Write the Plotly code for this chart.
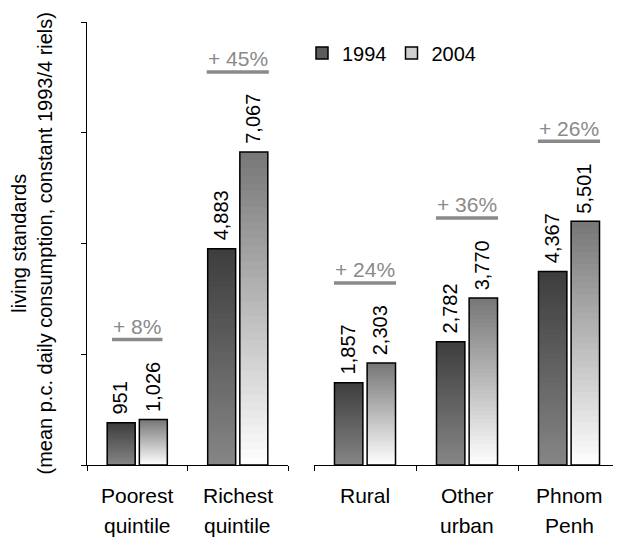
import plotly.graph_objects as go

# ---------------- data ----------------
quintiles = ["Poorest<br>quintile", "Richest<br>quintile"]
areas = ["Rural", "Other<br>urban", "Phnom<br>Penh"]
years = ["1994", "2004"]
q_1994 = [951, 4883]
q_2004 = [1026, 7067]
a_1994 = [1857, 2782, 4367]
a_2004 = [2303, 3770, 5501]
y_ticks = [0, 2500, 5000, 7500, 10000]
y_title = "living standards<br>(mean p.c. daily consumption, constant 1993/4 riels)"

# ---------------- style ----------------
FONT = "Liberation Sans, Arial, sans-serif"
OFF = 8  # page body margin
W, H = 621 - OFF, 550 - OFF
ML, MR, MT, MB = 87 - OFF, 1, 22 - OFF, 85
PW = W - ML - MR
PH = H - MT - MB
BARGAP, GROUPGAP = 0.36, 0.13
N = 40
GRAD = {"1994": (0x3d, 0x86), "2004": (0x76, 0xff)}
LEG_COL = {"1994": "#5c5c5c", "2004": "#cfcfcf"}
PCT_COL = "#8a8a8a"

left_dom = [0, (288 - OFF - ML) / PW]
right_dom = [(314 - OFF - ML) / PW, 1]


def grey(a, b, t):
    v = round(a + (b - a) * t)
    return f"rgb({v},{v},{v})"


fig = go.Figure()
panels = [
    (quintiles, [q_1994, q_2004], "x", "y", left_dom),
    (areas, [a_1994, a_2004], "x2", "y2", right_dom),
]

annotations = []
shapes = []

for cats, series, xa, ya, dom in panels:
    cat_px = (dom[1] - dom[0]) * PW / len(cats)
    half_slot = (1 - BARGAP) / 2 / 2 * cat_px
    for yr, vals in zip(years, series):
        top, bot = GRAD[yr]
        for k in range(N):
            frac = (N - k) / N
            t = (k + 0.5) / N
            fig.add_bar(
                x=cats, y=[v * frac for v in vals], xaxis=xa, yaxis=ya,
                offsetgroup=yr, marker=dict(color=grey(top, bot, t), line_width=0),
                showlegend=False, hoverinfo="skip",
            )
        fig.add_bar(
            x=cats, y=vals, xaxis=xa, yaxis=ya, offsetgroup=yr,
            marker=dict(color="rgba(0,0,0,0)", line=dict(color="black", width=1.5)),
            showlegend=False, hoverinfo="skip",
        )
    # value labels
    for j, vals in enumerate(series):
        sh = -half_slot if j == 0 else half_slot
        for c, v in zip(cats, vals):
            annotations.append(dict(
                x=c, y=v, xref=xa, yref=ya, text=f"{v:,}", showarrow=False,
                textangle=-90, xanchor="center", yanchor="bottom",
                xshift=sh - 1, yshift=6, font=dict(family=FONT, size=20, color="black"),
            ))
    # percentage change labels
    for c, v0, v1 in zip(cats, series[0], series[1]):
        pct = round((v1 / v0 - 1) * 100)
        txt = f"+ {pct}%"
        ym = max(v0, v1)
        annotations.append(dict(
            x=c, y=ym, xref=xa, yref=ya, text=txt, showarrow=False,
            xanchor="center", yanchor="middle", yshift=93,
            font=dict(family=FONT, size=21, color=PCT_COL),
        ))
        tw = 21 * (0.584 + 0.278 + 0.556 * len(str(pct)) + 0.889) + 2
        shapes.append(dict(
            type="line", xref=xa, yref=ya, xsizemode="pixel", ysizemode="pixel",
            xanchor=c, yanchor=ym, x0=-tw / 2, x1=tw / 2, y0=80, y1=80,
            line=dict(color=PCT_COL, width=3.5),
        ))
    # category labels (two lines, wide spacing)
    for c in cats:
        for li, line in enumerate(c.split("<br>")):
            annotations.append(dict(
                x=c, y=0, xref=xa, yref="paper", text=line, showarrow=False,
                xanchor="center", yanchor="middle", yshift=-30 - 30 * li,
                font=dict(family=FONT, size=21, color="black"),
            ))

# legend entries
for yr in years:
    fig.add_bar(
        x=[quintiles[0]], y=[None], name=yr, xaxis="x", yaxis="y", offsetgroup=yr,
        marker=dict(color=LEG_COL[yr], line=dict(color="black", width=1.5)),
        showlegend=True, hoverinfo="skip",
    )

annotations.append(dict(
    x=(31 - OFF - ML) / PW, y=0.5, xref="paper", yref="paper", text=y_title,
    showarrow=False, textangle=-90, xanchor="center", yanchor="middle",
    font=dict(family=FONT, size=20, color="black"),
))

axis_common = dict(
    type="category", showline=True, linecolor="black", linewidth=1,
    ticks="outside", tickson="boundaries", ticklen=5, tickcolor="black",
    showticklabels=False, showgrid=False, zeroline=False,
)

fig.update_layout(
    width=W, height=H,
    margin=dict(l=ML, r=MR, t=MT, b=MB),
    paper_bgcolor="white", plot_bgcolor="white",
    barmode="group", bargap=BARGAP, bargroupgap=GROUPGAP,
    font=dict(family=FONT, size=20, color="black"),
    xaxis=dict(domain=left_dom, anchor="y", categoryorder="array",
               categoryarray=quintiles, **axis_common),
    xaxis2=dict(domain=right_dom, anchor="y2", categoryorder="array",
                categoryarray=areas, **axis_common),
    yaxis=dict(range=[0, 10000], tickvals=y_ticks, showline=True, linecolor="black",
               linewidth=1, ticks="outside", ticklen=5, tickcolor="black",
               showticklabels=False, showgrid=False, zeroline=False, anchor="x"),
    yaxis2=dict(range=[0, 10000], matches="y", anchor="x2", showline=False,
                showticklabels=False, showgrid=False, zeroline=False, ticks=""),
    legend=dict(orientation="h", x=(302 - OFF - ML) / PW, y=(465 - 53) / PH,
                xanchor="left", yanchor="middle", bgcolor="rgba(0,0,0,0)",
                font=dict(family=FONT, size=20), itemwidth=30, traceorder="normal",
                itemclick=False, itemdoubleclick=False),
    annotations=annotations,
    shapes=shapes,
)

fig.write_html("out.html")
